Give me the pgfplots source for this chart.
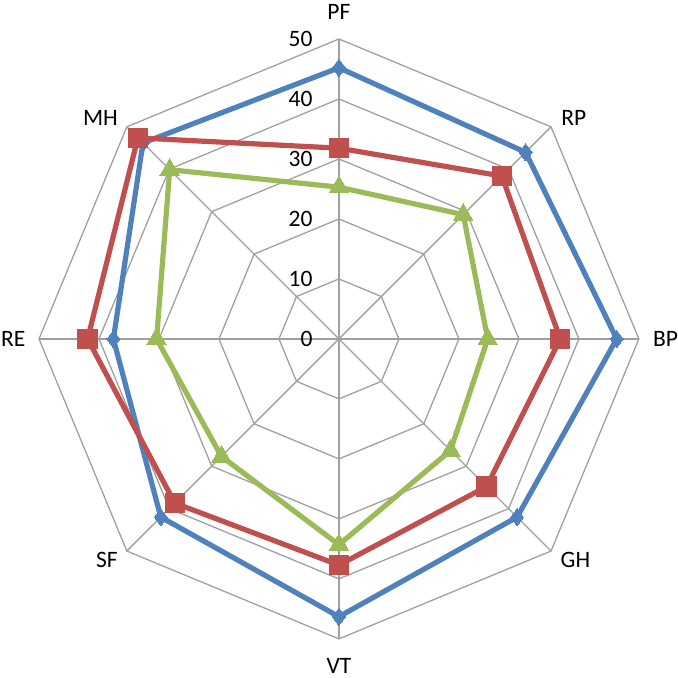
\documentclass[border=0pt]{standalone}
\usepackage{pgfplots}
\pgfplotsset{compat=1.18}
\usepackage{fontspec}
\setmainfont{Carlito}
\definecolor{cblue}{HTML}{4F81BD}
\definecolor{cred}{HTML}{C0504D}
\definecolor{cgreen}{HTML}{9BBB59}
\definecolor{cgrid}{HTML}{A0A0A0}
\tikzset{lab/.style={inner sep=0pt,font=\fontsize{11.8}{13}\selectfont}}
\begin{document}
\begin{tikzpicture}
\begin{axis}[x=3bp,y=3bp,xmin=-56.5,xmax=56.5,ymin=-56.5,ymax=56.5,
  hide axis,clip=false,scale only axis,
  gridline/.style={cgrid,line width=0.65bp,mark=none,data cs=polar}]
\path (axis cs:-56.5,-56.5) rectangle (axis cs:56.5,56.5);
% octagon grid
\addplot[gridline] coordinates {(90,10) (45,10) (0,10) (-45,10) (-90,10) (-135,10) (180,10) (135,10) (90,10)};
\addplot[gridline] coordinates {(90,20) (45,20) (0,20) (-45,20) (-90,20) (-135,20) (180,20) (135,20) (90,20)};
\addplot[gridline] coordinates {(90,30) (45,30) (0,30) (-45,30) (-90,30) (-135,30) (180,30) (135,30) (90,30)};
\addplot[gridline] coordinates {(90,40) (45,40) (0,40) (-45,40) (-90,40) (-135,40) (180,40) (135,40) (90,40)};
\addplot[gridline] coordinates {(90,50) (45,50) (0,50) (-45,50) (-90,50) (-135,50) (180,50) (135,50) (90,50)};
% spokes
\addplot[gridline] coordinates {(90,50) (0,0) (-90,50)};
\addplot[gridline] coordinates {(45,50) (0,0) (-135,50)};
\addplot[gridline] coordinates {(0,50) (0,0) (180,50)};
\addplot[gridline] coordinates {(-45,50) (0,0) (135,50)};
% series (angle, value): PF RP BP GH VT SF RE MH
\addplot[cblue,line width=2.6bp,data cs=polar,mark=diamond*,mark size=4.3bp,mark options={solid,line width=0bp,fill=cblue}]
 coordinates {(90,45.2) (45,44.0) (0,46.3) (-45,42.0) (-90,46.3) (-135,42.0) (180,37.6) (135,46.2) (90,45.2)};
\addplot[cred,line width=2.6bp,data cs=polar,mark=square*,mark size=4.8bp,mark options={solid,line width=0bp,fill=cred}]
 coordinates {(90,31.8) (45,38.4) (0,36.9) (-45,34.8) (-90,37.7) (-135,38.7) (180,41.9) (135,47.4) (90,31.8)};
\addplot[cgreen,line width=2.6bp,data cs=polar,mark=triangle*,mark size=5.6bp,mark options={solid,line width=0bp,fill=cgreen}]
 coordinates {(90,25.3) (45,29.3) (0,24.8) (-45,26.3) (-90,34.3) (-135,27.7) (180,30.4) (135,39.9) (90,25.3)};
% tick labels
\node[lab,anchor=east] at (axis cs:-4.33,0) {0};
\node[lab,anchor=east] at (axis cs:-4.33,10) {10};
\node[lab,anchor=east] at (axis cs:-4.33,20) {20};
\node[lab,anchor=east] at (axis cs:-4.33,30) {30};
\node[lab,anchor=east] at (axis cs:-4.33,40) {40};
\node[lab,anchor=east] at (axis cs:-4.33,50) {50};
% category labels
\node[lab] at (axis cs:0,54.5) {PF};
\node[lab,anchor=west] at (axis cs:37,36.8) {RP};
\node[lab,anchor=west] at (axis cs:52.3,0) {BP};
\node[lab,anchor=west] at (axis cs:36.9,-36.8) {GH};
\node[lab] at (axis cs:0,-54.5) {VT};
\node[lab,anchor=east] at (axis cs:-36.8,-36.8) {SF};
\node[lab,anchor=east] at (axis cs:-52.2,0) {RE};
\node[lab,anchor=east] at (axis cs:-36.8,36.8) {MH};
\end{axis}
\end{tikzpicture}
\end{document}
